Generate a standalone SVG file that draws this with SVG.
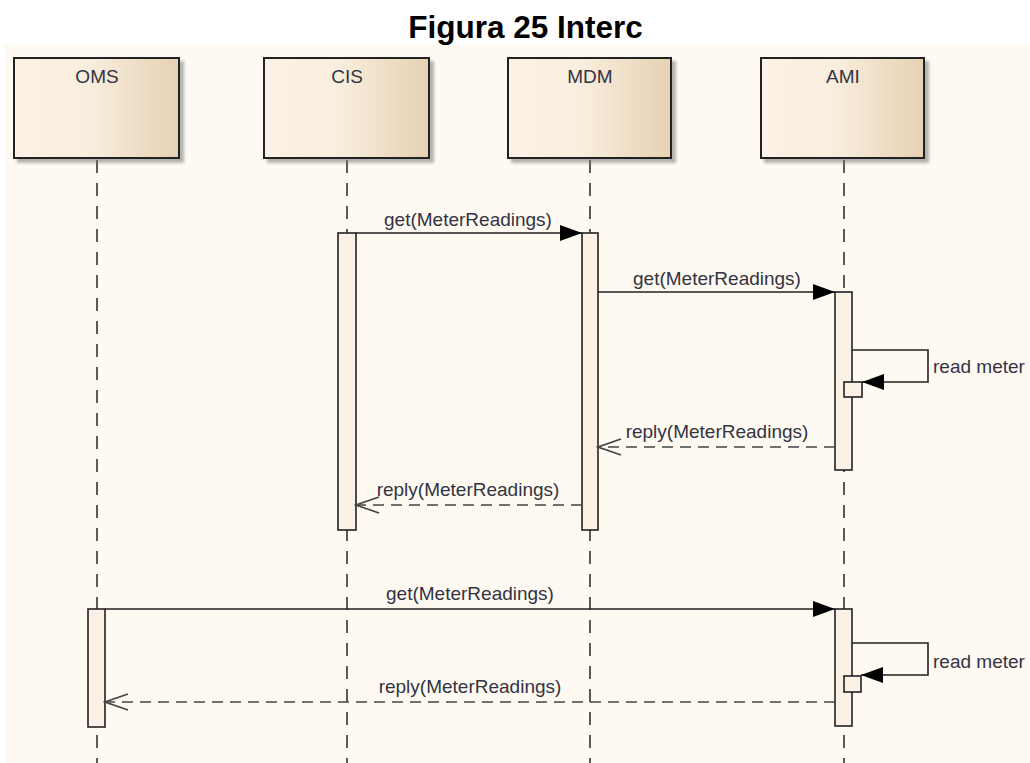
<svg xmlns="http://www.w3.org/2000/svg" width="1030" height="763" viewBox="0 0 1030 763">
  <defs>
    <linearGradient id="boxFill" x1="0" y1="0" x2="1" y2="0">
      <stop offset="0" stop-color="#FBF2E5"/>
      <stop offset="0.45" stop-color="#F9EEDE"/>
      <stop offset="1" stop-color="#E6D1B2"/>
    </linearGradient>
    <filter id="shadow" x="-10%" y="-10%" width="125%" height="130%">
      <feDropShadow dx="4" dy="4" stdDeviation="1.8" flood-color="#777" flood-opacity="0.55"/>
    </filter>
    <marker id="filled" markerUnits="userSpaceOnUse" markerWidth="24" markerHeight="18" refX="22" refY="9" orient="auto">
      <path d="M0,1 L22,9 L0,17 Z" fill="#000"/>
    </marker>
    <marker id="open" markerUnits="userSpaceOnUse" markerWidth="26" markerHeight="20" refX="24" refY="10" orient="auto">
      <path d="M1,2 L24,10 L1,18" fill="none" stroke="#444" stroke-width="1.6"/>
    </marker>
  </defs>
  <style>
    .title { font-family: "Liberation Sans", Arial, sans-serif; font-weight: bold; font-size: 31.5px; fill: #000; }
    .box { fill: url(#boxFill); stroke: #222; stroke-width: 2; }
    .name { font-family: "Liberation Sans", Arial, sans-serif; font-size: 19px; fill: #333344; text-anchor: middle; }
    .lifeline { stroke: #333; stroke-width: 1.6; stroke-dasharray: 13 10; fill: none; }
    .bar { fill: #FAF0E3; stroke: #222; stroke-width: 1.6; }
    .call { stroke: #222; stroke-width: 1.6; fill: none; marker-end: url(#filled); }
    .reply { stroke: #444; stroke-width: 1.6; fill: none; stroke-dasharray: 11 7; marker-end: url(#open); }
    .label { font-family: "Liberation Sans", Arial, sans-serif; font-size: 19px; fill: #333344; }
    .mid { text-anchor: middle; }
  </style>

  <!-- page -->
  <rect x="0" y="0" width="1030" height="763" fill="#FFFFFF"/>
  <rect x="5" y="45" width="1025" height="718" fill="#FEFAF1"/>
  <text class="title" x="525.5" y="38" text-anchor="middle">Figura 25 Interc</text>

  <!-- lifelines -->
  <g id="lifelines">
    <line class="lifeline" x1="97" y1="160" x2="97" y2="763"/>
    <line class="lifeline" x1="347" y1="160" x2="347" y2="763"/>
    <line class="lifeline" x1="590" y1="160" x2="590" y2="763"/>
    <line class="lifeline" x1="844" y1="160" x2="844" y2="763"/>
  </g>

  <!-- participants -->
  <g id="oms">
    <rect class="box" x="14" y="58" width="165" height="100" filter="url(#shadow)"/>
    <text class="name" x="97" y="83">OMS</text>
  </g>
  <g id="cis">
    <rect class="box" x="264" y="58" width="165" height="100" filter="url(#shadow)"/>
    <text class="name" x="347" y="83">CIS</text>
  </g>
  <g id="mdm">
    <rect class="box" x="508" y="58" width="163" height="100" filter="url(#shadow)"/>
    <text class="name" x="590" y="83">MDM</text>
  </g>
  <g id="ami">
    <rect class="box" x="761" y="58" width="163" height="100" filter="url(#shadow)"/>
    <text class="name" x="843" y="83">AMI</text>
  </g>

  <!-- activation bars -->
  <g id="activations">
    <rect class="bar" x="338" y="233" width="18" height="297"/>
    <rect class="bar" x="582" y="233" width="16" height="297"/>
    <rect class="bar" x="835" y="292" width="17" height="178"/>
    <rect class="bar" x="844" y="382" width="18" height="15"/>
    <rect class="bar" x="88" y="609" width="17" height="118"/>
    <rect class="bar" x="835" y="609" width="17" height="117"/>
    <rect class="bar" x="844" y="676" width="17" height="16"/>
  </g>

  <!-- messages -->
  <g id="connectors">
    <line class="call" x1="356" y1="233" x2="582" y2="233"/>
    <line class="call" x1="598" y1="292" x2="835" y2="292"/>
    <path class="call" d="M852,350 H928 V382 H862"/>
    <line class="reply" x1="835" y1="447" x2="598" y2="447"/>
    <line class="reply" x1="582" y1="505" x2="356" y2="505"/>
    <line class="call" x1="105" y1="609" x2="835" y2="609"/>
    <path class="call" d="M852,643 H928 V675 H861"/>
    <line class="reply" x1="835" y1="702" x2="105" y2="702"/>
  </g>

  <!-- message labels -->
  <g id="labels">
    <text class="label mid" x="468" y="226">get(MeterReadings)</text>
    <text class="label mid" x="717" y="285">get(MeterReadings)</text>
    <text class="label" x="933" y="373">read meter</text>
    <text class="label mid" x="717" y="438">reply(MeterReadings)</text>
    <text class="label mid" x="468" y="496">reply(MeterReadings)</text>
    <text class="label mid" x="470" y="600">get(MeterReadings)</text>
    <text class="label" x="933" y="668">read meter</text>
    <text class="label mid" x="470" y="693">reply(MeterReadings)</text>
  </g>
</svg>
